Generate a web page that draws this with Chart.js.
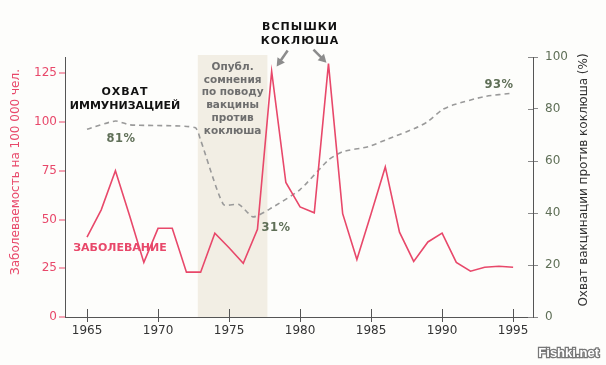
<!DOCTYPE html>
<html>
<head>
<meta charset="utf-8">
<script src="https://cdn.jsdelivr.net/npm/chart.js@4/dist/chart.umd.min.js"></script>
<style>
  html, body { margin: 0; padding: 0; background: #fdfdfb; }
  #wrap { width: 606px; height: 365px; position: relative; }
</style>
</head>
<body>
<div id="wrap"><canvas id="pertussis" width="606" height="365"></canvas></div>
<script>
// incidence per 100 000, one value per year
const years = [1965, 1966, 1967, 1968, 1969, 1970, 1971, 1972, 1973, 1974, 1975, 1976, 1977, 1978, 1979, 1980,
  1981, 1982, 1983, 1984, 1985, 1986, 1987, 1988, 1989, 1990, 1991, 1992, 1993, 1994, 1995];
const incidence = [41, 55, 75, 52, 28, 45.5, 45.5, 23, 23, 43, 35.5, 27.5, 45, 126, 69, 56.5,
  53.5, 130, 53, 29.5, 53, 77, 43.5, 28.5, 38.5, 43, 28, 23.5, 25.5, 26, 25.5];

// vaccination coverage (%)
const coverageYears = [1965, 1967, 1968, 1972.6, 1973, 1974.6, 1975.7, 1976.7, 1978, 1980, 1982, 1983,
  1984.8, 1986.2, 1988.1, 1989, 1990, 1990.8, 1993, 1995];
const coverage = [72.2, 75.4, 73.9, 72.9, 68, 43.3, 43.3, 38.5, 42, 49, 60.4, 63.6,
  65.5, 68.5, 72.6, 75.2, 79.7, 81.6, 84.8, 86.1];

const xTicks = [1965, 1970, 1975, 1980, 1985, 1990, 1995];
const leftTicks = [0, 25, 50, 75, 100, 125];
const rightTicks = [0, 20, 40, 60, 80, 100];
const doubtPeriod = [1972.8, 1977.7];
const outbreakYears = [1978, 1982];

const PINK = '#e8486a';
const GREEN = '#5f6f57';
const FONT = '"DejaVu Sans", Verdana, sans-serif';

const overlay = {
  id: 'overlay',
  beforeDatasetsDraw(chart) {
    const { ctx, scales: { x, y } } = chart;
    const x0 = x.getPixelForValue(doubtPeriod[0]);
    const x1 = x.getPixelForValue(doubtPeriod[1]);
    ctx.save();
    ctx.fillStyle = '#f2eee4';
    ctx.fillRect(x0, 55, x1 - x0, y.bottom - 55);
    ctx.fillStyle = '#6e6e6e';
    ctx.font = 'bold 10.5px ' + FONT;
    ctx.textAlign = 'center';
    ctx.textBaseline = 'middle';
    ['Опубл.', 'сомнения', 'по поводу', 'вакцины', 'против', 'коклюша'].forEach((t, i) => {
      ctx.fillText(t, (x0 + x1) / 2, 67 + i * 12.8);
    });
    ctx.restore();
  },
  afterDraw(chart) {
    const { ctx, scales: { x, y, y2 } } = chart;
    ctx.save();
    // inner halves of tick marks
    ctx.strokeStyle = '#555';
    ctx.lineWidth = 1;
    xTicks.forEach(v => {
      const px = Math.round(x.getPixelForValue(v)) + 0.5;
      ctx.beginPath();
      ctx.moveTo(px, y.bottom);
      ctx.lineTo(px, y.bottom - 8);
      ctx.stroke();
    });
    ctx.strokeStyle = '#8a8a8a';
    rightTicks.forEach(v => {
      const py = Math.round(y2.getPixelForValue(v)) + 0.5;
      ctx.beginPath();
      ctx.moveTo(x.right, py);
      ctx.lineTo(x.right - 5, py);
      ctx.stroke();
    });

    ctx.textAlign = 'center';
    ctx.textBaseline = 'middle';

    // axis titles
    ctx.font = '12px ' + FONT;
    ctx.fillStyle = PINK;
    ctx.save();
    ctx.translate(16, 172);
    ctx.rotate(-Math.PI / 2);
    ctx.fillText('Заболеваемость на 100 000 чел.', 0, 0);
    ctx.restore();
    ctx.fillStyle = '#333';
    ctx.save();
    ctx.translate(584, 180);
    ctx.rotate(-Math.PI / 2);
    ctx.fillText('Охват вакцинации против коклюша (%)', 0, 0);
    ctx.restore();

    // labels
    ctx.font = 'bold 11px ' + FONT;
    ctx.fillStyle = '#111';
    ctx.letterSpacing = '1px';
    ctx.fillText('ОХВАТ', 125, 92);
    ctx.letterSpacing = '0px';
    ctx.fillText('ИММУНИЗАЦИЕЙ', 125, 106);
    ctx.letterSpacing = '1px';
    ctx.fillText('ВСПЫШКИ', 300, 27);
    ctx.fillText('КОКЛЮША', 300, 41);
    ctx.letterSpacing = '0px';
    ctx.fillStyle = PINK;
    ctx.fillText('ЗАБОЛЕВАНИЕ', 120, 248);
    ctx.letterSpacing = '0.5px';
    ctx.font = 'bold 11.5px ' + FONT;
    ctx.fillStyle = GREEN;
    ctx.fillText('81%', 121, 139);
    ctx.fillText('31%', 276, 228);
    ctx.fillText('93%', 499, 85);
    ctx.letterSpacing = '0px';

    // arrows to the outbreak peaks
    const arrow = (tx, ty, fx, fy) => {
      const a = Math.atan2(ty - fy, tx - fx);
      ctx.strokeStyle = '#8c8c8c';
      ctx.fillStyle = '#8c8c8c';
      ctx.lineWidth = 2.5;
      ctx.beginPath();
      ctx.moveTo(fx, fy);
      ctx.lineTo(tx - 5 * Math.cos(a), ty - 5 * Math.sin(a));
      ctx.stroke();
      ctx.beginPath();
      ctx.moveTo(tx, ty);
      ctx.lineTo(tx - 8 * Math.cos(a) + 4.5 * Math.sin(a), ty - 8 * Math.sin(a) - 4.5 * Math.cos(a));
      ctx.lineTo(tx - 8 * Math.cos(a) - 4.5 * Math.sin(a), ty - 8 * Math.sin(a) + 4.5 * Math.cos(a));
      ctx.closePath();
      ctx.fill();
    };
    const p1x = x.getPixelForValue(outbreakYears[0]);
    const p1y = y.getPixelForValue(incidence[years.indexOf(outbreakYears[0])]);
    const p2x = x.getPixelForValue(outbreakYears[1]);
    const p2y = y.getPixelForValue(incidence[years.indexOf(outbreakYears[1])]);
    arrow(p1x + 5, p1y - 5, p1x + 16, p1y - 21);
    arrow(p2x - 2, p2y - 1, p2x - 15, p2y - 14);

    // watermark
    ctx.font = 'bold 13px "Liberation Sans", Arial, sans-serif';
    ctx.textAlign = 'right';
    ctx.lineWidth = 2.5;
    ctx.strokeStyle = '#777';
    ctx.strokeText('Fishki.net', 599, 353);
    ctx.fillStyle = '#fff';
    ctx.fillText('Fishki.net', 599, 353);
    ctx.restore();
  }
};

new Chart(document.getElementById('pertussis'), {
  type: 'line',
  data: {
    datasets: [
      {
        label: 'Заболевание',
        data: years.map((yr, i) => ({ x: yr, y: incidence[i] })),
        yAxisID: 'y',
        borderColor: PINK,
        borderWidth: 1.6,
        pointRadius: 0,
        tension: 0,
      },
      {
        label: 'Охват',
        data: coverageYears.map((yr, i) => ({ x: yr, y: coverage[i] })),
        yAxisID: 'y2',
        borderColor: '#9a9a9a',
        borderWidth: 1.6,
        borderDash: [5, 4],
        pointRadius: 0,
        tension: 0.2,
      }
    ]
  },
  options: {
    responsive: false,
    animation: false,
    layout: { padding: { top: 57, left: 0, right: 0, bottom: 0 } },
    plugins: {
      legend: { display: false },
      tooltip: { enabled: false }
    },
    scales: {
      x: {
        type: 'linear',
        min: 1963.45,
        max: 1996.4,
        afterBuildTicks: (s) => { s.ticks = xTicks.map(v => ({ value: v })); },
        afterFit: (s) => { s.height = 48; },
        border: { color: '#555' },
        grid: { drawOnChartArea: false, tickLength: 5, color: '#555' },
        ticks: {
          color: '#333',
          font: { family: FONT, size: 12 },
          padding: 2,
          maxRotation: 0,
          callback: (v) => String(v)
        }
      },
      y: {
        position: 'left',
        min: 0,
        max: 133.4,
        afterBuildTicks: (s) => { s.ticks = leftTicks.map(v => ({ value: v })); },
        afterFit: (s) => { s.width = 65; },
        border: { color: '#555' },
        grid: { drawOnChartArea: false, tickLength: 6, color: '#f4a3b3', lineWidth: 2 },
        ticks: {
          color: PINK,
          font: { family: FONT, size: 12 },
          padding: 2,
          callback: (v) => String(v)
        }
      },
      y2: {
        position: 'right',
        min: 0,
        max: 100,
        afterBuildTicks: (s) => { s.ticks = rightTicks.map(v => ({ value: v })); },
        afterFit: (s) => { s.width = 73; },
        border: { color: '#555' },
        grid: { drawOnChartArea: false, tickLength: 5, color: '#8a8a8a' },
        ticks: {
          color: GREEN,
          font: { family: FONT, size: 12 },
          padding: 7,
          callback: (v) => String(v)
        }
      }
    }
  },
  plugins: [overlay]
});
</script>
</body>
</html>
